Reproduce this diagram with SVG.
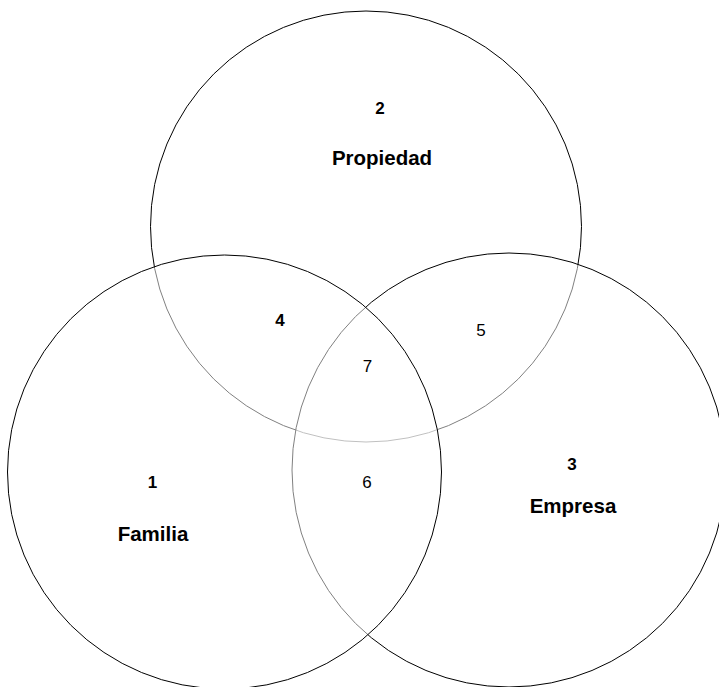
<svg xmlns="http://www.w3.org/2000/svg" width="719" height="687" viewBox="0 0 719 687">
<style>
.c{fill:#fff;fill-opacity:0.5;stroke:#000;stroke-width:1}
.n{font-family:"Liberation Sans",Arial,sans-serif;font-size:17px;text-anchor:middle;fill:#000}
.b{font-weight:bold}
.l{font-family:"Liberation Sans",Arial,sans-serif;font-size:20.5px;font-weight:bold;text-anchor:middle;fill:#000}
</style>
<rect width="719" height="687" fill="#fff"/>
<g id="propiedad">
<circle class="c" cx="366" cy="226.5" r="215.5"/>
</g>
<g id="empresa">
<circle class="c" cx="509" cy="470" r="217"/>
</g>
<g id="familia">
<circle class="c" cx="224.5" cy="472" r="217"/>
</g>
<g id="labels">
<text class="n b" x="380" y="114">2</text>
<text class="l" x="382" y="164.5">Propiedad</text>
<text class="n b" x="152.5" y="488">1</text>
<text class="l" x="153" y="540.5">Familia</text>
<text class="n b" x="572" y="470">3</text>
<text class="l" x="573" y="513">Empresa</text>
<text class="n b" x="280" y="325.5">4</text>
<text class="n" x="481" y="336">5</text>
<text class="n" x="367" y="488">6</text>
<text class="n" x="367.5" y="372">7</text>
</g>
</svg>
